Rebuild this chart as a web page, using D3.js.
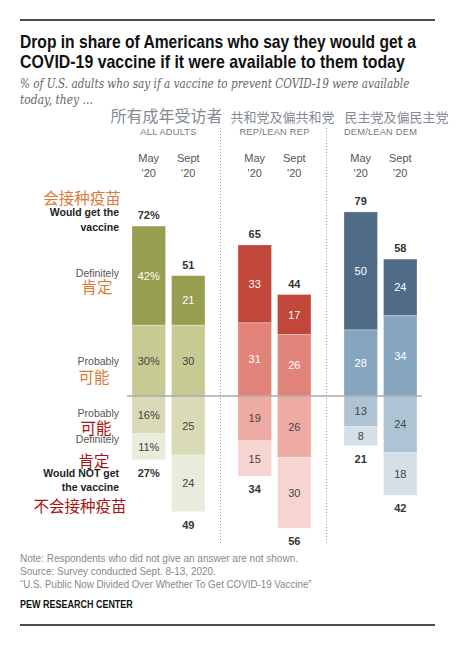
<!DOCTYPE html>
<html><head><meta charset="utf-8">
<script src="https://cdn.jsdelivr.net/npm/d3@7"></script>
<style>
html,body{margin:0;padding:0;background:#fff;}
svg{display:block;}
text{font-family:"Liberation Sans",Arial,sans-serif;}
.zh{font-family:"Noto Sans CJK SC",sans-serif;}
</style></head>
<body>
<script>
// ---- data ----
const groups = ["ALL ADULTS", "REP/LEAN REP", "DEM/LEAN DEM"];
const groupsZh = ["所有成年受访者", "共和党及偏共和党", "民主党及偏民主党"];
const waves = ["May", "Sept"];
const waveYear = ["'20", "'20"];
const definitelyGet = [[42, 21], [33, 17], [50, 24]];
const probablyGet   = [[30, 30], [31, 26], [28, 34]];
const probablyNot   = [[16, 25], [19, 26], [13, 24]];
const definitelyNot = [[11, 24], [15, 30], [8, 18]];
const totalGet = [[72, 51], [65, 44], [79, 58]];
const totalNot = [[27, 49], [34, 56], [21, 42]];
const title = ["Drop in share of Americans who say they would get a",
               "COVID-19 vaccine if it were available to them today"];
const subtitle = ["% of U.S. adults who say if a vaccine to prevent COVID-19 were available",
                  "today, they ..."];
const notes = ["Note: Respondents who did not give an answer are not shown.",
               "Source: Survey conducted Sept. 8-13, 2020.",
               "\u201cU.S. Public Now Divided Over Whether To Get COVID-19 Vaccine\u201d"];
const palette = [
  ["#979e50", "#c6cb93", "#d8dbb6", "#e9ebdb"],
  ["#c1473a", "#e2837a", "#eeaba3", "#f6d5d1"],
  ["#4f6b86", "#86a6bf", "#aec4d4", "#d4dfe7"]
];

const W = 462, H = 650;
const svg = d3.select("body").append("svg").attr("width", W).attr("height", H);

// text fitted to a width via horizontal scaling
function fitText(x, y, str, target, attrs) {
  const g = svg.append("g");
  const t = g.append("text").attr("x", 0).attr("y", 0).text(str);
  Object.entries(attrs).forEach(([k, v]) => {
    if (k.startsWith("style:")) t.style(k.slice(6), v); else t.attr(k, v);
  });
  const len = t.node().getComputedTextLength();
  const k = target / len;
  g.attr("transform", `translate(${x},${y}) scale(${k},1)`);
  return t;
}

// rules
svg.append("line").attr("x1", 20).attr("x2", 435).attr("y1", 20).attr("y2", 20).attr("stroke", "#111").attr("stroke-width", 1.3);
svg.append("line").attr("x1", 20).attr("x2", 435).attr("y1", 625).attr("y2", 625).attr("stroke", "#111").attr("stroke-width", 1.3);

// title
const tl = [396, 385];
title.forEach((t, i) => {
  fitText(20, 48 + i * 20, t, tl[i], {"font-size": 17.5, "font-weight": "bold", "fill": "#111"});
});
const sl = [390, 73];
subtitle.forEach((t, i) => {
  fitText(20, 88 + i * 16, t, sl[i], {"style:font-family": "'DejaVu Serif','Liberation Serif',serif",
    "font-style": "italic", "font-size": 12, "fill": "#666"});
});

// scales
const xG = d3.scaleBand().domain(groups).range([126, 444]).paddingInner(0);
const xW = d3.scaleBand().domain(waves).range([6, 79]).paddingInner(0.152);
const base = 396;
const h = d3.scaleLinear().domain([0, 100]).range([0, 236]);

// dividers
[1, 2].forEach(i => {
  const x = xG(groups[i]) - 11.5;
  svg.append("line").attr("x1", x).attr("x2", x).attr("y1", 128).attr("y2", 544)
    .attr("stroke", "#999").attr("stroke-width", 1).attr("stroke-dasharray", "1,2");
});

// headers
const zhSize = [16, 13, 13];
const zhShift = [-2, 8, 16];
groups.forEach((g, i) => {
  const cx = xG(g) + xW("May") + (xW("Sept") + xW.bandwidth() - xW("May")) / 2;
  svg.append("text").attr("class", "zh").attr("x", cx + zhShift[i]).attr("y", 122).attr("text-anchor", "middle")
    .attr("font-size", zhSize[i]).attr("fill", "#858b94").text(groupsZh[i]);
  svg.append("text").attr("x", cx).attr("y", 134.5).attr("text-anchor", "middle")
    .attr("font-size", 9.3).attr("fill", "#777").attr("letter-spacing", 0.2).text(g);
  waves.forEach((w, j) => {
    const bx = xG(g) + xW(w) + xW.bandwidth() / 2;
    svg.append("text").attr("x", bx).attr("y", 162).attr("text-anchor", "middle")
      .attr("font-size", 11).attr("fill", "#555").text(w);
    svg.append("text").attr("x", bx).attr("y", 177).attr("text-anchor", "middle")
      .attr("font-size", 11).attr("fill", "#555").text(waveYear[j]);
  });
});

// bars
const textCol = [
  ["#fff", "#444", "#444", "#444"],
  ["#fff", "#fff", "#444", "#444"],
  ["#fff", "#fff", "#444", "#444"]
];
groups.forEach((g, i) => {
  waves.forEach((w, j) => {
    const bx = xG(g) + xW(w);
    const bw = xW.bandwidth();
    const dg = definitelyGet[i][j], pg = probablyGet[i][j], pn = probablyNot[i][j], dn = definitelyNot[i][j];
    const segs = [
      {v: dg, y0: base - h(pg + dg), k: 0},
      {v: pg, y0: base - h(pg), k: 1},
      {v: pn, y0: base, k: 2},
      {v: dn, y0: base + h(pn), k: 3}
    ];
    const suffix = (i === 0 && j === 0) ? "%" : "";
    segs.forEach(s => {
      svg.append("rect").attr("x", bx).attr("y", s.y0).attr("width", bw).attr("height", h(s.v))
        .attr("fill", palette[i][s.k]).attr("stroke", "rgba(255,255,255,0.35)").attr("stroke-width", 0.8);
      svg.append("text").attr("x", bx + bw / 2).attr("y", s.y0 + h(s.v) / 2 + 4)
        .attr("text-anchor", "middle").attr("font-size", 11).attr("fill", textCol[i][s.k])
        .text(s.v + suffix);
    });
    // totals
    svg.append("text").attr("x", bx + bw / 2).attr("y", base - h(pg + dg) - 7)
      .attr("text-anchor", "middle").attr("font-size", 11).attr("font-weight", "bold").attr("fill", "#333")
      .text(totalGet[i][j] + suffix);
    svg.append("text").attr("x", bx + bw / 2).attr("y", base + h(pn + dn) + 17)
      .attr("text-anchor", "middle").attr("font-size", 11).attr("font-weight", "bold").attr("fill", "#333")
      .text(totalNot[i][j] + suffix);
  });
});

// baseline
svg.append("line").attr("x1", 127).attr("x2", 422).attr("y1", base).attr("y2", base)
  .attr("stroke", "#a8a8a8").attr("stroke-width", 1.5);

// row labels (left)
const lx = 119;
const d0 = definitelyGet[0][0], p0 = probablyGet[0][0], pn0 = probablyNot[0][0], dn0 = definitelyNot[0][0];
const rows = [
  {t: "Would get the", y: base - h(d0 + p0) - 10, b: true},
  {t: "vaccine", y: base - h(d0 + p0) + 5, b: true},
  {t: "Definitely", y: base - h(p0 + d0 / 2) + 1, b: false},
  {t: "Probably", y: base - h(p0 / 2) + 4, b: false},
  {t: "Probably", y: base + h(pn0 / 2) + 2, b: false},
  {t: "Definitely", y: base + h(pn0 + dn0 / 2) - 4, b: false},
  {t: "Would NOT get", y: base + h(pn0 + dn0) + 17, b: true},
  {t: "the vaccine", y: base + h(pn0 + dn0) + 31, b: true}
];
rows.forEach(r => {
  svg.append("text").attr("x", lx).attr("y", r.y).attr("text-anchor", "end")
    .attr("font-size", 10.5).attr("font-weight", r.b ? "bold" : "normal")
    .attr("fill", r.b ? "#222" : "#555").text(r.t);
});

// chinese annotations
const orange = "#dd7a38", red = "#a81414";
const zh = [
  {t: "会接种疫苗", x: 82, y: 204, c: orange},
  {t: "肯定", x: 97, y: 293, c: orange},
  {t: "可能", x: 94, y: 383, c: orange},
  {t: "可能", x: 96, y: 434, c: red},
  {t: "肯定", x: 94, y: 467, c: red},
  {t: "不会接种疫苗", x: 80, y: 512, c: red}
];
zh.forEach(z => {
  svg.append("text").attr("class", "zh").attr("x", z.x).attr("y", z.y).attr("text-anchor", "middle")
    .attr("font-size", 15.5).attr("fill", z.c).text(z.t);
});

// notes
const nl = [278, 196, 292];
notes.forEach((t, i) => {
  fitText(20, 562 + i * 13, t, nl[i], {"font-size": 10, "fill": "#888"});
});
fitText(20, 608, "PEW RESEARCH CENTER", 113, {"font-size": 10.5, "font-weight": "bold", "fill": "#111"});
</script>
</body></html>
